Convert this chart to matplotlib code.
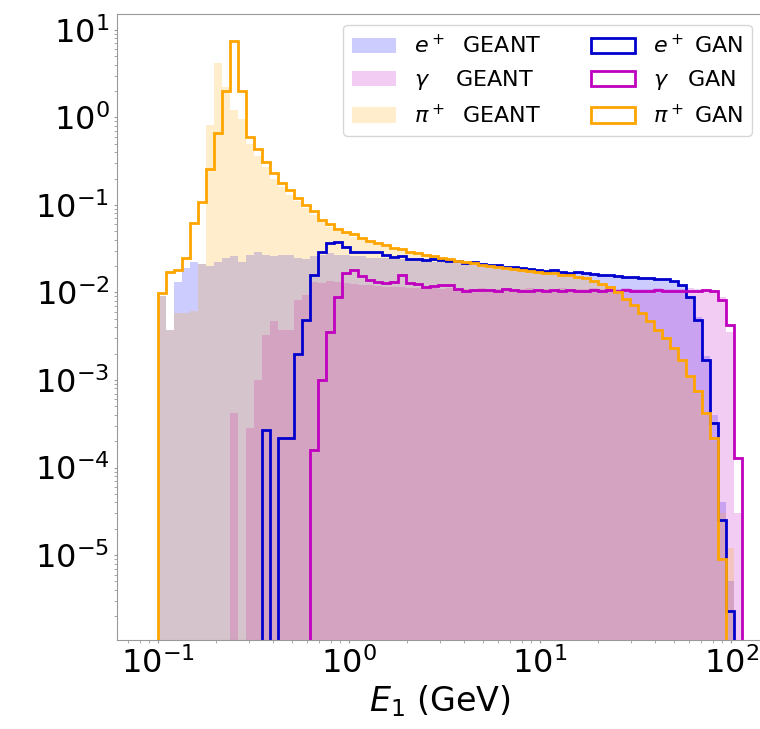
import numpy as np
import matplotlib
matplotlib.use("Agg")
import matplotlib.pyplot as plt
from matplotlib.ticker import NullFormatter

# log bins in E1 (GeV)
edges = np.logspace(-1, 2.1, 75)
centers = np.sqrt(edges[:-1] * edges[1:])

# GEANT reference histograms (normalised)
ep_geant = [0.009, 0.0037, 0.013, 0.019, 0.022, 0.021, 0.020, 0.022, 0.025, 0.026,
            0.022, 0.027, 0.029, 0.027, 0.026, 0.027, 0.027, 0.025, 0.024, 0.026,
            0.027, 0.028, 0.027, 0.027, 0.026, 0.026, 0.025, 0.025, 0.0245, 0.024,
            0.0238, 0.0232, 0.023, 0.0228, 0.0225, 0.022, 0.0218, 0.0214, 0.021, 0.0208,
            0.0205, 0.0202, 0.0198, 0.0195, 0.019, 0.0186, 0.0183, 0.018, 0.0176, 0.0173,
            0.017, 0.0167, 0.0165, 0.0162, 0.016, 0.0157, 0.0155, 0.0152, 0.015, 0.0148,
            0.0146, 0.0144, 0.0142, 0.014, 0.0135, 0.0122, 0.0092, 0.0052, 0.0019, 0.0004,
            4e-5, 5e-6, 0, 0]
gam_geant = [0, 0, 0, 0, 0, 0, 0, 0, 0, 4.2e-4,
             0, 2.8e-4, 0.001, 0.0033, 0.0047, 0.0037, 0.0037, 0.0082, 0.0094, 0.013,
             0.0128, 0.0135, 0.013, 0.0128, 0.0125, 0.0122, 0.012, 0.0118, 0.0116, 0.0115,
             0.0114, 0.0113, 0.0112, 0.0111, 0.0112, 0.011, 0.0111, 0.011, 0.0109, 0.011,
             0.0111, 0.0109, 0.011, 0.0111, 0.0109, 0.011, 0.0111, 0.011, 0.0109, 0.011,
             0.0111, 0.011, 0.0109, 0.011, 0.0111, 0.011, 0.0109, 0.011, 0.0111, 0.011,
             0.0109, 0.011, 0.0111, 0.011, 0.0109, 0.011, 0.0111, 0.011, 0.0109, 0.0108,
             0.0088, 0.0035, 3e-5, 0]
pi_geant = [0.009, 0.0037, 0.0058, 0.0058, 0.0062, 0.021, 0.82, 4.2, 2.2, 1.2,
            0.95, 0.5, 0.36, 0.27, 0.2, 0.16, 0.13, 0.11, 0.092, 0.077,
            0.064, 0.056, 0.05, 0.046, 0.043, 0.04, 0.037, 0.035, 0.033, 0.031,
            0.03, 0.028, 0.027, 0.026, 0.025, 0.024, 0.023, 0.0225, 0.0215, 0.021,
            0.0202, 0.0196, 0.019, 0.0186, 0.018, 0.0176, 0.0172, 0.0168, 0.0164, 0.016,
            0.0156, 0.015, 0.0145, 0.014, 0.013, 0.012, 0.011, 0.0097, 0.0083, 0.007,
            0.0057, 0.0046, 0.0036, 0.0029, 0.0022, 0.0016, 0.0011, 0.0007, 0.0004, 0.0002,
            3e-5, 1.2e-5, 0, 0]

# GAN generated histograms
ep_gan = [0, 0, 0, 0, 0, 0, 0, 0, 0, 0,
          0, 0, 0, 2.7e-4, 0, 2.2e-4, 2.2e-4, 0.002, 0.0049, 0.016,
          0.029, 0.037, 0.038, 0.033, 0.029, 0.029, 0.029, 0.029, 0.027, 0.0257,
          0.026, 0.024, 0.024, 0.0235, 0.0238, 0.0232, 0.0228, 0.023, 0.0215, 0.0222,
          0.0212, 0.0205, 0.0208, 0.0197, 0.0195, 0.0188, 0.0185, 0.0182, 0.0178, 0.018,
          0.0172, 0.0168, 0.0172, 0.0166, 0.0163, 0.016, 0.0158, 0.0155, 0.0152, 0.015,
          0.0148, 0.0145, 0.0143, 0.0142, 0.0136, 0.0122, 0.0089, 0.0049, 0.0017, 0.00032,
          2.5e-5, 2.3e-6, 0, 0]
gam_gan = [0, 0, 0, 0, 0, 0, 0, 0, 0, 0,
           0, 0, 0, 0, 0, 0, 0, 0, 0, 1.6e-4,
           0.001, 0.0035, 0.0089, 0.0166, 0.018, 0.0155, 0.0137, 0.013, 0.0128, 0.0132,
           0.0158, 0.0128, 0.0125, 0.0116, 0.0118, 0.0123, 0.0121, 0.011, 0.0105, 0.0108,
           0.0106, 0.0108, 0.0104, 0.0109, 0.0107, 0.0104, 0.0105, 0.0108, 0.0104, 0.0106,
           0.0103, 0.0106, 0.0105, 0.0104, 0.0107, 0.0104, 0.0106, 0.0103, 0.0106, 0.0104,
           0.0105, 0.0103, 0.0106, 0.0104, 0.0105, 0.0104, 0.0105, 0.0104, 0.0106, 0.0104,
           0.0082, 0.0043, 1.3e-4, 0]
pi_gan = [0.0099, 0.017, 0.018, 0.025, 0.062, 0.107, 0.26, 0.66, 2.0, 7.5,
          2.0, 0.6, 0.43, 0.31, 0.23, 0.18, 0.146, 0.12, 0.10, 0.085,
          0.068, 0.060, 0.053, 0.049, 0.046, 0.042, 0.039, 0.037, 0.035, 0.032,
          0.031, 0.029, 0.028, 0.027, 0.026, 0.025, 0.024, 0.023, 0.022, 0.0215,
          0.0205, 0.020, 0.0195, 0.019, 0.0185, 0.018, 0.0178, 0.0172, 0.0168, 0.0165,
          0.016, 0.0158, 0.015, 0.0145, 0.0135, 0.0125, 0.0115, 0.010, 0.0085, 0.0072,
          0.0058, 0.0047, 0.0037, 0.0030, 0.0023, 0.0017, 0.0011, 0.00075, 0.00042, 0.00022,
          9e-6, 0, 0, 0]

xticks = [0.1, 1, 10, 100]
yticks = [1e-5, 1e-4, 1e-3, 1e-2, 1e-1, 1, 10]

fig = plt.figure(figsize=(7.6, 7.29), dpi=100)
ax = fig.add_axes([0.154, 0.122, 0.85, 0.859])

ax.hist(centers, bins=edges, weights=ep_geant, histtype='stepfilled', color='b', alpha=0.2, label=r'$e^+$  GEANT')
ax.hist(centers, bins=edges, weights=gam_geant, histtype='stepfilled', color='m', alpha=0.2, label=r'$\gamma$    GEANT')
ax.hist(centers, bins=edges, weights=pi_geant, histtype='stepfilled', color='orange', alpha=0.2, label=r'$\pi^+$  GEANT')
ax.hist(centers, bins=edges, weights=ep_gan, histtype='step', color='mediumblue', lw=2, label=r'$e^+$ GAN')
ax.hist(centers, bins=edges, weights=gam_gan, histtype='step', color='m', lw=2, label=r'$\gamma$   GAN')
ax.hist(centers, bins=edges, weights=pi_gan, histtype='step', color='orange', lw=2, label=r'$\pi^+$ GAN')

ax.set_xscale('log')
ax.set_yscale('log')
ax.set_xlim(0.061, 147)
ax.set_ylim(1.07e-6, 15.2)
ax.set_xticks(xticks)
ax.set_yticks(yticks)
ax.xaxis.set_minor_formatter(NullFormatter())
ax.yaxis.set_minor_formatter(NullFormatter())

for s in ax.spines.values():
    s.set_color('0.6')
ax.tick_params(which='both', colors='0.6', labelcolor='black', labelsize=23, length=2)
ax.set_xlabel(r'$E_1$ (GeV)', fontsize=24, labelpad=2)

ax.legend(loc='upper right', ncol=2, fontsize=16, frameon=True, columnspacing=2.2)

fig.savefig('out.png', dpi=100)
